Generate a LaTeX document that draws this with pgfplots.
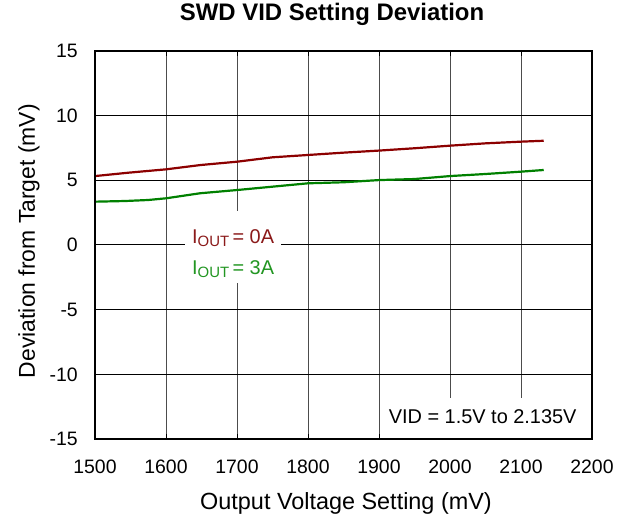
\documentclass[border=0pt]{standalone}
\usepackage{pgfplots}
\pgfplotsset{compat=1.18}
\usepackage{fontspec}
\setmainfont{Liberation Sans}
\definecolor{cred}{RGB}{140,0,0}
\definecolor{cgreen}{RGB}{0,128,0}
\definecolor{tred}{RGB}{139,26,26}
\definecolor{tgreen}{RGB}{34,150,34}
\begin{document}
\begin{tikzpicture}
\useasboundingbox (0,0) rectangle (630bp,517bp);
\begin{axis}[
  at={(95bp,78bp)}, anchor=south west,
  scale only axis, width=497bp, height=388bp,
  xmin=1500, xmax=2200, ymin=-15, ymax=15,
  xtick={1500,1600,...,2200}, ytick={-15,-10,...,15},
  grid=major,
  major x grid style={line width=1bp, color=black!70},
  major y grid style={line width=1bp, color=black},
  axis line style={line width=1.2bp, black},
  tick style={line width=1bp, black},
  tick align=inside, major tick length=5bp,
  /pgf/number format/assume math mode=true,
  /pgf/number format/set thousands separator={},
  ticklabel style={font=\fontsize{19.5}{20}\selectfont},
  xticklabel style={anchor=center, inner sep=0pt, yshift=-28bp},
  yticklabel style={anchor=east, inner sep=0pt, xshift=-17bp},
  xlabel={Output Voltage Setting (mV)},
  ylabel={Deviation from Target (mV)},
  xlabel style={at={(axis description cs:0.505,-0.166)}, anchor=center, font=\fontsize{23.5}{24}\selectfont},
  ylabel style={at={(axis description cs:-0.1328,0.51)}, anchor=center, font=\fontsize{23}{24}\selectfont},
  title={SWD VID Setting Deviation},
  title style={at={(axis description cs:0.477,1.0799)}, anchor=center, font=\bfseries\fontsize{24}{24}\selectfont},
]
\addplot[cred, line width=2.2bp] coordinates {
(1500,5.33) (1547,5.59) (1600,5.85) (1648,6.18) (1700,6.44) (1750,6.78)
(1800,6.96) (1850,7.14) (1900,7.30) (1950,7.48) (2000,7.68) (2050,7.86)
(2100,7.99) (2132,8.06)};
\addplot[cgreen, line width=2.2bp] coordinates {
(1500,3.35) (1542,3.40) (1575,3.48) (1600,3.61) (1648,4.00) (1700,4.25)
(1750,4.51) (1800,4.77) (1850,4.85) (1900,5.02) (1950,5.10) (2000,5.33)
(2050,5.49) (2100,5.67) (2132,5.80)};
\fill[white] (axis cs:1627,2.63) rectangle (axis cs:1762,-2.94);
\fill[white] (axis cs:1905.6,-11.84) rectangle (axis cs:2200,-15);
\node[anchor=base west, inner sep=0pt, text=tred, font=\fontsize{20}{20}\selectfont] at (axis cs:1636.6,0.15) {I\raisebox{-3bp}{\fontsize{15}{15}\selectfont OUT}\,= 0A};
\node[anchor=base west, inner sep=0pt, text=tgreen, font=\fontsize{20}{20}\selectfont] at (axis cs:1636.6,-2.25) {I\raisebox{-3bp}{\fontsize{15}{15}\selectfont OUT}\,= 3A};
\node[anchor=center, inner sep=0pt, font=\fontsize{20}{20}\selectfont] at (axis cs:2046,-13.3) {VID = 1.5V to 2.135V};
\draw[line width=1.2bp, black] (rel axis cs:0,0) rectangle (rel axis cs:1,1);
\end{axis}
\end{tikzpicture}
\end{document}
